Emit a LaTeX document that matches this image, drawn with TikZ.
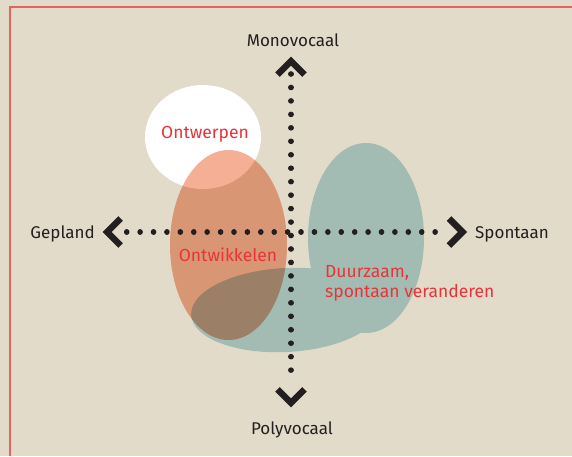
\documentclass[tikz,border=0pt]{standalone}
\usepackage{fontspec}
\setmainfont{Fira Sans}
\usetikzlibrary{calc}
\definecolor{paper}{RGB}{226,219,201}
\definecolor{frame}{RGB}{230,98,94}
\definecolor{ink}{RGB}{35,31,32}
\definecolor{labelred}{RGB}{232,52,56}
\definecolor{salmon}{RGB}{245,175,148}
\definecolor{sea}{RGB}{183,218,228}
\begin{document}
\begin{tikzpicture}[x=1pt,y=-1pt,
  axislabel/.style={text=ink, font=\fontsize{17}{20}\selectfont, inner sep=0pt},
  zonelabel/.style={text=labelred, font=\fontsize{17.5}{20}\selectfont, inner sep=0pt},
  dotline/.style={draw=ink, line width=5.6pt, line cap=round, dash pattern=on 0.01pt off #1},
  chevron/.style={draw=ink, line width=6.4pt, miter limit=10, line join=miter, line cap=butt},
  zone/.style={fill=#1, blend mode=multiply}]
% paper and frame
\fill[paper] (0,0) rectangle (572,456);
\useasboundingbox (0,0) rectangle (572,456);
\draw[frame, line width=1.6pt] (10,456) -- (10,7) -- (572,7);

% zones
\fill[white] (203,137) ellipse [x radius=58pt, y radius=52pt];
\fill[zone=salmon] (228.5,245) ellipse [x radius=58.5pt, y radius=95pt];
\fill[zone=sea] (366,238) ellipse [x radius=58pt, y radius=95pt]
  [rotate around={3:(286,310)}] (286,310) ellipse [x radius=95pt, y radius=42pt];

% axes
\coordinate (tipN) at (291,61.2);
\coordinate (tipS) at (291,402.8);
\coordinate (tipW) at (107.2,232);
\coordinate (tipE) at (462.5,232);
\coordinate (dotN) at (291,74);
\coordinate (dotS) at (291,383.35);
\coordinate (dotW) at (126.7,232);
\coordinate (dotE) at (448.3,232);
\draw[dotline=13.4pt] (dotW) -- (dotE);
\draw[dotline=13.45pt] (dotN) -- (dotS);
\draw[chevron] ($(tipN)+(-13.5,13.5)$) -- (tipN) -- ($(tipN)+(13.5,13.5)$);
\draw[chevron] ($(tipS)+(-13.5,-13.5)$) -- (tipS) -- ($(tipS)+(13.5,-13.5)$);
\draw[chevron] ($(tipW)+(13.5,-13.5)$) -- (tipW) -- ($(tipW)+(13.5,13.5)$);
\draw[chevron] ($(tipE)+(-13.5,-13.5)$) -- (tipE) -- ($(tipE)+(-13.5,13.5)$);

% axis labels
\node[axislabel] (mono) at (293,40) {Monovocaal};
\node[axislabel] (poly) at (292,430) {Polyvocaal};
\node[axislabel, anchor=east] (gepland) at (95,234) {Gepland};
\node[axislabel, anchor=west] (spontaan) at (475,234) {Spontaan};

% zone labels
\node[zonelabel] (ontwerpen) at (205,134) {Ontwerpen};
\node[zonelabel] (ontwikkelen) at (228,255) {Ontwikkelen};
\node[zonelabel, anchor=base west] (duurzaam) at (325,277) {Duurzaam,};
\node[zonelabel, anchor=base west] (spontverand) at (325,297) {spontaan veranderen};
\end{tikzpicture}
\end{document}
